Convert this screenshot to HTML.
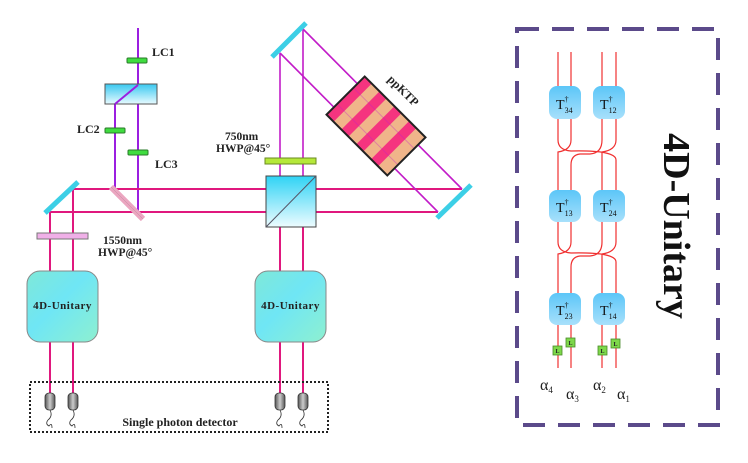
<!DOCTYPE html>
<html><head><meta charset="utf-8"><style>
html,body{margin:0;padding:0;background:#fff;}
svg{display:block;}
text{font-family:"Liberation Serif",serif;}
</style></head><body>
<svg width="748" height="463" viewBox="0 0 748 463" xmlns="http://www.w3.org/2000/svg">
<defs>
<linearGradient id="bl" x1="0" y1="0" x2="0" y2="1"><stop offset="0" stop-color="#39c8f0"/><stop offset="1" stop-color="#e8fbff"/></linearGradient>
<linearGradient id="cube" x1="0" y1="0" x2="0" y2="1"><stop offset="0" stop-color="#2fd3f5"/><stop offset="1" stop-color="#eefcff"/></linearGradient>
<linearGradient id="u4" x1="0" y1="0" x2="1" y2="1"><stop offset="0" stop-color="#7fe8d8"/><stop offset="0.45" stop-color="#6fe6f5"/><stop offset="1" stop-color="#8ef0d0"/></linearGradient>
<linearGradient id="tb" x1="0" y1="0" x2="0" y2="1"><stop offset="0" stop-color="#5cc6f8"/><stop offset="1" stop-color="#a8e0fb"/></linearGradient>
<linearGradient id="det" x1="0" y1="0" x2="1" y2="0"><stop offset="0" stop-color="#555"/><stop offset="0.5" stop-color="#ccc"/><stop offset="1" stop-color="#555"/></linearGradient>
</defs>

<!-- purple lines top-left -->
<g stroke="#9b1fe0" stroke-width="2" fill="none">
<line x1="138" y1="28" x2="138" y2="212"/>
<polyline points="138,85 115,104 115,189"/>
</g>
<!-- PBS small -->
<rect x="105" y="84" width="52" height="20" fill="url(#bl)" stroke="#555" stroke-width="1"/>
<line x1="138" y1="85" x2="115" y2="104" stroke="#9b1fe0" stroke-width="2"/>
<!-- LCs -->
<g fill="#3fdc3f" stroke="#2a7a2a" stroke-width="1">
<rect x="127" y="58" width="20" height="5" rx="1"/>
<rect x="105" y="128" width="20" height="5" rx="1"/>
<rect x="128" y="150" width="20" height="5" rx="1"/>
</g>
<g font-weight="bold" font-size="12" fill="#222">
<text x="152" y="56">LC1</text>
<text x="77" y="133">LC2</text>
<text x="155" y="168">LC3</text>
</g>

<!-- horizontal lines -->
<g stroke="#e0187e" stroke-width="2" fill="none">
<line x1="73" y1="189" x2="266" y2="189"/>
<line x1="50" y1="212" x2="266" y2="212"/>
<line x1="316" y1="189" x2="462" y2="189"/>
<line x1="316" y1="212" x2="438" y2="212"/>
<polyline points="73,189 73,271"/>
<polyline points="50,212 50,271"/>
<line x1="50" y1="342" x2="50" y2="393"/>
<line x1="73" y1="342" x2="73" y2="393"/>
<line x1="280" y1="227" x2="280" y2="271"/>
<line x1="303" y1="227" x2="303" y2="271"/>
<line x1="280" y1="342" x2="280" y2="393"/>
<line x1="303" y1="342" x2="303" y2="393"/>
</g>
<!-- magenta / purple lines right -->
<g stroke="#c21cc8" stroke-width="1.6" fill="none">
<line x1="280" y1="53" x2="280" y2="176"/>
<line x1="303" y1="29" x2="303" y2="176"/>
<line x1="303" y1="29" x2="462" y2="189"/>
<line x1="280" y1="53" x2="438" y2="212"/>
</g>
<!-- mirrors -->
<g stroke="#3ccfe6" stroke-width="5" stroke-linecap="butt">
<line x1="45" y1="213" x2="78" y2="182"/>
<line x1="272" y1="57" x2="306" y2="23"/>
<line x1="437" y1="218" x2="471" y2="185"/>
</g>
<line x1="111" y1="187" x2="143" y2="219" stroke="#eba6c0" stroke-width="6"/>
<line x1="111" y1="187" x2="143" y2="219" stroke="#c08aa0" stroke-width="0.5"/>

<!-- HWPs -->
<rect x="37" y="233" width="51" height="6" fill="#f0b0e8" stroke="#777" stroke-width="1"/>
<rect x="265" y="158" width="51" height="6" fill="#b5e83a" stroke="#6a8a20" stroke-width="1"/>
<g font-weight="bold" font-size="11.5" fill="#222">
<text x="103" y="244">1550nm</text>
<text x="98" y="256">HWP@45°</text>
<text x="225" y="140">750nm</text>
<text x="216" y="152">HWP@45°</text>
</g>

<!-- cube -->
<rect x="266" y="176" width="50" height="51" fill="url(#cube)" stroke="#444" stroke-width="1"/>
<line x1="266" y1="227" x2="316" y2="176" stroke="#556" stroke-width="1"/>

<!-- ppKTP -->
<g transform="translate(376,126) rotate(45)">
<rect x="-43" y="-27" width="86" height="54" fill="#f0b58a"/>
<rect x="-43" y="-27" width="10" height="54" fill="#f5347f"/>
<rect x="-22" y="-27" width="10" height="54" fill="#f5347f"/>
<rect x="-1" y="-27" width="10" height="54" fill="#f5347f"/>
<rect x="20" y="-27" width="10" height="54" fill="#f5347f"/>
<line x1="-43" y1="-11" x2="43" y2="-11" stroke="#c21cc8" stroke-width="1" opacity="0.35"/>
<line x1="-43" y1="12" x2="43" y2="12" stroke="#c21cc8" stroke-width="1" opacity="0.35"/>
<rect x="-43" y="-27" width="86" height="54" fill="none" stroke="#222" stroke-width="2"/>
</g>
<text x="0" y="0" font-weight="bold" font-size="12" fill="#222" transform="translate(387,80) rotate(45)">ppKTP</text>

<!-- 4D unitary boxes -->
<rect x="27" y="271" width="71" height="71" rx="13" fill="url(#u4)" stroke="#888" stroke-width="1"/>
<rect x="255" y="271" width="71" height="71" rx="13" fill="url(#u4)" stroke="#888" stroke-width="1"/>
<g font-weight="bold" font-size="11" fill="#222" text-anchor="middle" letter-spacing="0.5">
<text x="62.5" y="309">4D-Unitary</text>
<text x="290.5" y="309">4D-Unitary</text>
</g>

<!-- detector box -->
<rect x="30" y="382" width="298" height="50" fill="none" stroke="#222" stroke-width="2" stroke-dasharray="2,2"/>
<g fill="url(#det)" stroke="#333" stroke-width="0.8">
<rect x="45" y="393" width="10" height="17" rx="4"/>
<rect x="68" y="393" width="10" height="17" rx="4"/>
<rect x="275" y="393" width="10" height="17" rx="4"/>
<rect x="298" y="393" width="10" height="17" rx="4"/>
</g>
<g stroke="#333" stroke-width="0.8" fill="none">
<path d="M50 410 q3 6 -2 10 q-3 4 1 6 q3 -4 3 2"/>
<path d="M73 410 q3 6 -2 10 q-3 4 1 6 q3 -4 3 2"/>
<path d="M280 410 q3 6 -2 10 q-3 4 1 6 q3 -4 3 2"/>
<path d="M303 410 q3 6 -2 10 q-3 4 1 6 q3 -4 3 2"/>
</g>
<text x="180" y="426" font-weight="bold" font-size="12" fill="#222" text-anchor="middle">Single photon detector</text>

<!-- right panel -->
<rect x="517" y="29" width="201" height="396" fill="none" stroke="#5b4a8a" stroke-width="4" stroke-dasharray="22,13"/>
<g stroke="#f03030" stroke-width="1.2" fill="none">
<line x1="558" y1="52" x2="558" y2="86"/><line x1="571" y1="52" x2="571" y2="86"/>
<line x1="602" y1="52" x2="602" y2="86"/><line x1="616" y1="52" x2="616" y2="86"/>
<path d="M558 119 V140 Q558 150 571 151 Q616 150 616 160 V190"/>
<path d="M571 119 V140 Q571 150 558 152 V190"/>
<path d="M616 119 V140 Q616 150 602 152 V190"/>
<path d="M602 119 V140 Q602 153 590 154 H580 Q571 155 571 165 V190"/>
<path d="M558 222 V242 Q558 252 571 253 Q616 252 616 262 V293"/>
<path d="M571 222 V242 Q571 252 558 254 V293"/>
<path d="M616 222 V242 Q616 252 602 254 V293"/>
<path d="M602 222 V242 Q602 255 590 256 H580 Q571 257 571 267 V293"/>
<line x1="558" y1="325" x2="558" y2="368"/><line x1="571" y1="325" x2="571" y2="368"/>
<line x1="602" y1="325" x2="602" y2="368"/><line x1="616" y1="325" x2="616" y2="368"/>
</g>
<g fill="url(#tb)">
<rect x="549" y="86" width="32" height="33" rx="8"/>
<rect x="593" y="86" width="32" height="33" rx="8"/>
<rect x="549" y="190" width="32" height="32" rx="8"/>
<rect x="593" y="190" width="32" height="32" rx="8"/>
<rect x="549" y="293" width="32" height="32" rx="8"/>
<rect x="593" y="293" width="32" height="32" rx="8"/>
</g>
<g font-size="14" fill="#111">
<text x="556" y="109">T<tspan font-size="8" dy="-7">†</tspan><tspan font-size="8" dx="-4" dy="11">34</tspan></text>
<text x="600" y="109">T<tspan font-size="8" dy="-7">†</tspan><tspan font-size="8" dx="-4" dy="11">12</tspan></text>
<text x="556" y="212">T<tspan font-size="8" dy="-7">†</tspan><tspan font-size="8" dx="-4" dy="11">13</tspan></text>
<text x="600" y="212">T<tspan font-size="8" dy="-7">†</tspan><tspan font-size="8" dx="-4" dy="11">24</tspan></text>
<text x="556" y="315">T<tspan font-size="8" dy="-7">†</tspan><tspan font-size="8" dx="-4" dy="11">23</tspan></text>
<text x="600" y="315">T<tspan font-size="8" dy="-7">†</tspan><tspan font-size="8" dx="-4" dy="11">14</tspan></text>
</g>
<g fill="#7ed84a" stroke="#4a8a2a" stroke-width="0.8">
<rect x="553" y="346" width="9" height="9"/>
<rect x="566" y="338" width="9" height="9"/>
<rect x="598" y="346" width="9" height="9"/>
<rect x="611" y="339" width="9" height="9"/>
</g>
<g font-size="6" font-weight="bold" fill="#222" text-anchor="middle">
<text x="557.5" y="353">L</text><text x="570.5" y="345">L</text>
<text x="602.5" y="353">L</text><text x="615.5" y="346">L</text>
</g>
<g font-size="16" fill="#222">
<text x="540" y="390">α<tspan font-size="9" dy="3">4</tspan></text>
<text x="566" y="399">α<tspan font-size="9" dy="3">3</tspan></text>
<text x="593" y="390">α<tspan font-size="9" dy="3">2</tspan></text>
<text x="617" y="399">α<tspan font-size="9" dy="3">1</tspan></text>
</g>
<text transform="translate(664,226) rotate(90)" font-size="38" font-weight="bold" fill="#111" text-anchor="middle">4D-Unitary</text>
</svg>
</body></html>
